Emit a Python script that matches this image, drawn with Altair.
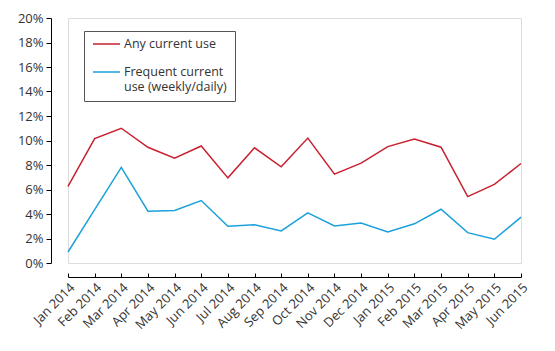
import altair as alt
import pandas as pd

months = ["Jan 2014", "Feb 2014", "Mar 2014", "Apr 2014", "May 2014", "Jun 2014",
          "Jul 2014", "Aug 2014", "Sep 2014", "Oct 2014", "Nov 2014", "Dec 2014",
          "Jan 2015", "Feb 2015", "Mar 2015", "Apr 2015", "May 2015", "Jun 2015"]
any_use = [6.25, 10.15, 11.0, 9.45, 8.55, 9.55, 6.95, 9.4, 7.85, 10.2, 7.25, 8.15,
           9.5, 10.12, 9.45, 5.42, 6.42, 8.12]
frequent_use = [0.9, 4.35, 7.8, 4.23, 4.28, 5.1, 3.0, 3.13, 2.62, 4.09, 3.03, 3.27,
                2.54, 3.2, 4.39, 2.48, 1.94, 3.74]
series_names = ["Any current use", "Frequent current use (weekly/daily)"]
colors = ["#c8202f", "#1ba1dc"]

rows = []
for m, a, f in zip(months, any_use, frequent_use):
    rows.append({"month": m, "series": series_names[0], "value": a / 100})
    rows.append({"month": m, "series": series_names[1], "value": f / 100})
df = pd.DataFrame(rows)

FONT = "Open Sans"
TXT = "#333333"
AX_FS = 13

xscale = alt.Scale(type="point", padding=0)
yscale = alt.Scale(domain=[0, 0.2])
yaxis = alt.Axis(values=[i / 100 for i in range(0, 21, 2)], format=".0%", offset=17,
                 grid=False, tickSize=5, labelPadding=3, domainColor="#000",
                 tickColor="#000", labelColor=TXT, labelFont=FONT, labelFontSize=AX_FS,
                 title=None, orient="left")

lines = alt.Chart(df).mark_line(strokeWidth=1.5).encode(
    x=alt.X("month:O", sort=months, scale=xscale,
            axis=alt.Axis(orient="bottom", offset=10, tickSize=4, domain=False,
                          labels=False, tickColor="#000", title=None, grid=False)),
    y=alt.Y("value:Q", scale=yscale, axis=yaxis),
    color=alt.Color("series:N", scale=alt.Scale(domain=series_names, range=colors),
                    legend=alt.Legend(
                        title=None, orient="none", legendX=16, legendY=13,
                        symbolType="stroke", symbolSize=729, symbolStrokeWidth=1.5,
                        symbolOffset=0, clipHeight=10,
                        labelFont=FONT, labelFontSize=12.5, labelColor=TXT,
                        labelOffset=3, padding=8, strokeColor="#555555",
                        rowPadding=15, labelLimit=300,
                        labelExpr="datum.label == 'Frequent current use (weekly/daily)' ? ['Frequent current', 'use (weekly/daily)'] : datum.label",
                    )),
)

axis_layer = alt.Chart(df).mark_point(opacity=0).encode(
    x=alt.X("month:O", sort=months, scale=xscale,
            axis=alt.Axis(orient="bottom", offset=14, ticks=False, domain=True,
                          domainColor="#000", labelAngle=-45, labelFont=FONT,
                          labelFontSize=AX_FS, labelColor=TXT, labelPadding=4,
                          title=None, grid=False)),
    y=alt.Y("value:Q", scale=yscale, axis=yaxis),
)

chart = alt.layer(lines, axis_layer).resolve_axis(x="independent").properties(
    width=453, height=245,
    autosize=alt.AutoSizeParams(type="none"),
    padding={"left": 68, "top": 18, "right": 34, "bottom": 88},
).configure_view(strokeWidth=0).configure(font=FONT)

chart.save("out.html", embed_options={"renderer": "svg", "actions": False})
